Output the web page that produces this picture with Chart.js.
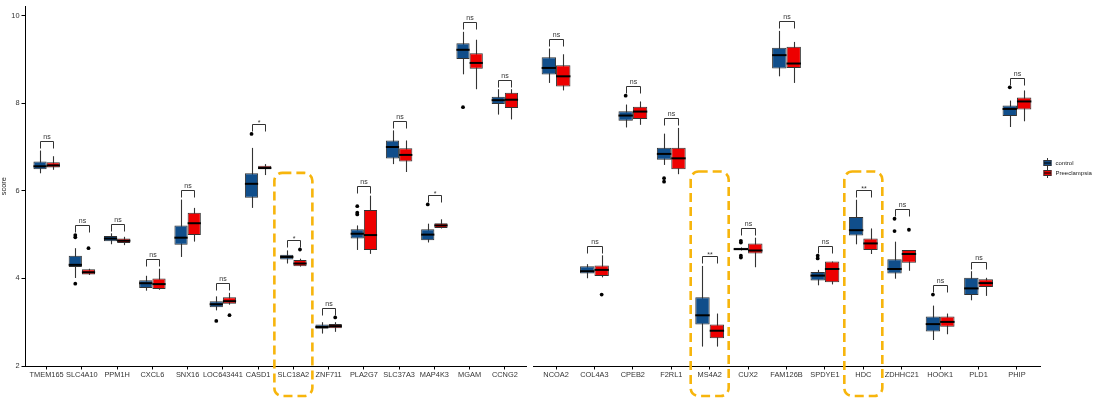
<!DOCTYPE html>
<html lang="en">
  <head>
    <meta charset="UTF-8" />
    <title>Gene score boxplots</title>
    <script src="https://cdn.jsdelivr.net/npm/chart.js"></script>
    <style>
      html,
      body {
        margin: 0;
        padding: 0;
        background: #fff;
      }
      body {
        position: relative;
        width: 1093px;
        height: 401px;
        overflow: hidden;
      }
      .panel {
        position: absolute;
        top: 0;
        height: 401px;
      }
      #leftWrap {
        left: 0;
        width: 530px;
      }
      #rightWrap {
        left: 529px;
        width: 564px;
      }
    </style>
  </head>
  <body>
    <div class="panel" id="leftWrap"><canvas id="leftChart"></canvas></div>
    <div class="panel" id="rightWrap"><canvas id="rightChart"></canvas></div>

    <script>
      // ---- data: each box is [lower whisker, Q1, median, Q3, upper whisker] ----
      const genesLeft = ["TMEM165", "SLC4A10", "PPM1H", "CXCL6", "SNX16", "LOC643441", "CASD1",
        "SLC18A2", "ZNF711", "PLA2G7", "SLC37A3", "MAP4K3", "MGAM", "CCNG2"];
      const genesRight = ["NCOA2", "COL4A3", "CPEB2", "F2RL1", "MS4A2", "CUX2", "FAM126B",
        "SPDYE1", "HDC", "ZDHHC21", "HOOK1", "PLD1", "PHIP"];

      const controlLeft = [
        [6.40, 6.49, 6.56, 6.67, 6.92], [4.01, 4.26, 4.31, 4.52, 4.69], [4.78, 4.85, 4.91, 4.97, 5.03],
        [3.72, 3.78, 3.89, 3.96, 4.06], [4.49, 4.77, 4.93, 5.21, 5.80], [3.27, 3.34, 3.41, 3.48, 3.59],
        [5.61, 5.84, 6.16, 6.40, 6.98], [4.34, 4.43, 4.49, 4.54, 4.64], [2.74, 2.85, 2.89, 2.95, 3.00],
        [4.65, 4.91, 5.02, 5.12, 5.21], [6.61, 6.74, 7.00, 7.15, 7.38], [4.82, 4.87, 5.00, 5.12, 5.25],
        [8.66, 9.01, 9.22, 9.37, 9.63], [7.74, 7.98, 8.07, 8.15, 8.32]
      ];
      const preeclampsiaLeft = [
        [6.48, 6.53, 6.58, 6.65, 6.79], [4.08, 4.09, 4.14, 4.21, 4.22], [4.76, 4.81, 4.86, 4.91, 4.95],
        [3.74, 3.76, 3.87, 4.00, 4.22], [4.84, 4.99, 5.26, 5.50, 5.61], [3.40, 3.42, 3.48, 3.57, 3.67],
        [6.36, 6.49, 6.52, 6.57, 6.61], [4.27, 4.28, 4.34, 4.42, 4.45], [2.78, 2.86, 2.91, 2.96, 3.00],
        [4.56, 4.65, 4.99, 5.56, 5.89], [6.43, 6.67, 6.82, 6.97, 7.15], [5.14, 5.15, 5.21, 5.26, 5.35],
        [8.32, 8.79, 8.92, 9.14, 9.45], [7.63, 7.89, 8.08, 8.24, 8.32]
      ];
      const controlLeftOutliers = [[], [4.99, 4.94, 3.88], [], [], [], [3.03], [7.30], [], [],
        [5.65, 5.50, 5.46], [], [5.69], [7.91], []];
      const preeclampsiaLeftOutliers = [[], [4.69], [], [], [], [3.16], [], [4.66], [3.11],
        [], [], [], [], []];

      const controlRight = [
        [8.42, 8.61, 8.76, 9.00, 9.20], [3.99, 4.10, 4.15, 4.26, 4.31], [7.41, 7.56, 7.68, 7.78, 7.93],
        [6.56, 6.68, 6.81, 6.95, 7.27], [2.44, 2.94, 3.15, 3.56, 4.27], [4.62, 4.63, 4.65, 4.68, 4.69],
        [8.57, 8.75, 9.05, 9.22, 9.60], [3.83, 3.94, 4.05, 4.13, 4.18], [4.76, 4.96, 5.08, 5.38, 5.77],
        [3.98, 4.10, 4.20, 4.42, 4.82], [2.59, 2.78, 2.95, 3.12, 3.37], [3.49, 3.61, 3.76, 4.00, 4.15],
        [7.42, 7.67, 7.83, 7.91, 8.02]
      ];
      const preeclampsiaRight = [
        [8.25, 8.34, 8.57, 8.82, 9.07], [4.01, 4.04, 4.18, 4.28, 4.51], [7.47, 7.60, 7.77, 7.88, 8.00],
        [6.35, 6.46, 6.71, 6.95, 7.40], [2.44, 2.63, 2.80, 2.94, 3.19], [4.24, 4.55, 4.62, 4.78, 4.91],
        [8.42, 8.76, 8.86, 9.24, 9.35], [3.85, 3.90, 4.20, 4.37, 4.37], [4.54, 4.63, 4.78, 4.89, 5.12],
        [4.16, 4.34, 4.54, 4.63, 4.63], [2.72, 2.89, 3.00, 3.12, 3.19], [3.59, 3.79, 3.88, 3.97, 4.00],
        [7.55, 7.82, 8.00, 8.09, 8.25]
      ];
      const controlRightOutliers = [[], [], [8.13], [6.26, 6.18], [], [4.84, 4.80, 4.50, 4.46], [],
        [4.50, 4.44], [], [5.34, 5.06], [3.62], [], [8.32]];
      const preeclampsiaRightOutliers = [[], [3.62], [], [], [], [], [], [], [], [5.09], [], [], []];

      const sigLeft = ["ns", "ns", "ns", "ns", "ns", "ns", "*", "*", "ns", "ns", "ns", "*", "ns", "ns"];
      const sigRight = ["ns", "ns", "ns", "ns", "**", "ns", "ns", "ns", "**", "ns", "ns", "ns", "ns"];

      const highlighted = ["SLC18A2", "MS4A2", "HDC"];
      const groupNames = ["control", "Preeclampsia"];
      const yTicks = [2, 4, 6, 8, 10];

      // ---- style ----
      const BLUE = "#104E8B";
      const RED = "#EE0000";
      const EDGE = "#333333";
      const GOLD = "#F7B50C";
      const FONT = '"Liberation Sans", Arial, Helvetica, sans-serif';
      const Y_MIN = 2;
      const Y_MAX = 10.21;
      const DODGE = 0.75;
      const BRACKET_GAP = 0.22;
      const HIGHLIGHT_TOP = 6.41;

      Chart.defaults.font.family = FONT;
      Chart.defaults.color = "#333";
      Chart.defaults.animation = false;

      function boxPoints(stats) {
        return stats.map((s, i) => ({ x: i, y: [s[1], s[3]] }));
      }

      function outlierPoints(outs, shift) {
        const pts = [];
        outs.forEach((list, i) => list.forEach((v) => pts.push({ x: i + shift, y: v })));
        return pts;
      }

      function makeBoxPlugin(cfg) {
        return {
          id: "boxExtras",
          beforeDatasetsDraw(chart) {
            // whiskers, drawn behind the boxes
            const ctx = chart.ctx;
            const y = chart.scales.y;
            ctx.save();
            ctx.strokeStyle = EDGE;
            ctx.lineWidth = 1.1;
            cfg.stats.forEach((stats, d) => {
              chart.getDatasetMeta(d).data.forEach((bar, i) => {
                const s = stats[i];
                const x = Math.round(bar.x) + 0.5;
                ctx.beginPath();
                ctx.moveTo(x, y.getPixelForValue(s[0]));
                ctx.lineTo(x, y.getPixelForValue(s[4]));
                ctx.stroke();
              });
            });
            ctx.restore();
          },
          afterDatasetsDraw(chart) {
            const ctx = chart.ctx;
            const y = chart.scales.y;
            ctx.save();
            // medians
            ctx.strokeStyle = "#000";
            ctx.lineWidth = 2;
            cfg.stats.forEach((stats, d) => {
              chart.getDatasetMeta(d).data.forEach((bar, i) => {
                const py = y.getPixelForValue(stats[i][2]);
                ctx.beginPath();
                ctx.moveTo(bar.x - bar.width / 2, py);
                ctx.lineTo(bar.x + bar.width / 2, py);
                ctx.stroke();
              });
            });
            // significance brackets
            ctx.strokeStyle = EDGE;
            ctx.lineWidth = 1;
            ctx.fillStyle = "#333";
            ctx.font = "7px " + FONT;
            ctx.textAlign = "center";
            ctx.textBaseline = "bottom";
            const m0 = chart.getDatasetMeta(0).data;
            const m1 = chart.getDatasetMeta(1).data;
            cfg.sig.forEach((label, i) => {
              const top = Math.max(
                cfg.stats[0][i][4], cfg.stats[1][i][4],
                ...cfg.outliers[0][i], ...cfg.outliers[1][i]
              ) + BRACKET_GAP;
              const py = Math.round(y.getPixelForValue(top)) + 0.5;
              const x0 = Math.round(m0[i].x) + 0.5;
              const x1 = Math.round(m1[i].x) + 0.5;
              ctx.beginPath();
              ctx.moveTo(x0, py + 7);
              ctx.lineTo(x0, py);
              ctx.lineTo(x1, py);
              ctx.lineTo(x1, py + 7);
              ctx.stroke();
              ctx.fillText(label, (x0 + x1) / 2, label === "ns" ? py - 1 : py + 2);
            });
            ctx.restore();
          },
          afterDraw(chart) {
            const ctx = chart.ctx;
            const x = chart.scales.x;
            const y = chart.scales.y;
            ctx.save();
            // dashed highlight frames
            ctx.strokeStyle = GOLD;
            ctx.lineWidth = 2.6;
            ctx.setLineDash([9, 5]);
            cfg.genes.forEach((g, i) => {
              if (!highlighted.includes(g)) return;
              const cx = x.getPixelForValue(i);
              const top = y.getPixelForValue(HIGHLIGHT_TOP);
              const bottom = chart.height - 5;
              ctx.beginPath();
              ctx.roundRect(cx - 19, top, 38, bottom - top, 8);
              ctx.stroke();
            });
            ctx.setLineDash([]);
            // legend
            if (cfg.legend) {
              const lx = chart.chartArea.right + 3.5;
              [BLUE, RED].forEach((col, k) => {
                const ky = 159 + k * 10;
                ctx.strokeStyle = EDGE;
                ctx.lineWidth = 1;
                ctx.beginPath();
                ctx.moveTo(lx + 4, ky - 1);
                ctx.lineTo(lx + 4, ky + 9);
                ctx.stroke();
                ctx.fillStyle = col;
                ctx.fillRect(lx, ky + 1, 8, 6);
                ctx.strokeRect(lx + 0.5, ky + 1.5, 7, 5);
                ctx.strokeStyle = "#000";
                ctx.beginPath();
                ctx.moveTo(lx + 0.5, ky + 4);
                ctx.lineTo(lx + 7.5, ky + 4);
                ctx.stroke();
                ctx.fillStyle = "#222";
                ctx.font = "6px " + FONT;
                ctx.textAlign = "left";
                ctx.textBaseline = "middle";
                ctx.fillText(groupNames[k], lx + 12, ky + 4);
              });
            }
            ctx.restore();
          },
        };
      }

      function makeChart(canvasId, genes, ctrl, pe, ctrlOut, peOut, sig, showY, showLegend, padding) {
        const shift = DODGE / 4;
        const ctx = document.getElementById(canvasId).getContext("2d");
        return new Chart(ctx, {
          type: "bar",
          data: {
            datasets: [
              {
                label: groupNames[0],
                data: boxPoints(ctrl),
                backgroundColor: BLUE,
                borderColor: EDGE,
                borderWidth: 1,
                borderSkipped: false,
                categoryPercentage: DODGE,
                barPercentage: 1,
              },
              {
                label: groupNames[1],
                data: boxPoints(pe),
                backgroundColor: RED,
                borderColor: EDGE,
                borderWidth: 1,
                borderSkipped: false,
                categoryPercentage: DODGE,
                barPercentage: 1,
              },
              {
                type: "scatter",
                data: outlierPoints(ctrlOut, -shift),
                backgroundColor: "#000",
                borderWidth: 0,
                pointRadius: 1.9,
              },
              {
                type: "scatter",
                data: outlierPoints(peOut, shift),
                backgroundColor: "#000",
                borderWidth: 0,
                pointRadius: 1.9,
              },
            ],
          },
          options: {
            responsive: true,
            maintainAspectRatio: false,
            layout: { padding: padding },
            plugins: {
              legend: { display: false },
              tooltip: { enabled: false },
            },
            scales: {
              x: {
                type: "linear",
                min: -0.6,
                max: genes.length - 0.4,
                offset: false,
                afterBuildTicks: (scale) => {
                  scale.ticks = genes.map((g, i) => ({ value: i }));
                },
                afterFit: (scale) => {
                  scale.height = 35;
                },
                ticks: {
                  autoSkip: false,
                  maxRotation: 0,
                  minRotation: 0,
                  padding: 1,
                  color: "#333",
                  font: { size: 7.4 },
                  callback: (v) => genes[v],
                },
                grid: {
                  display: true,
                  offset: false,
                  drawOnChartArea: false,
                  drawTicks: true,
                  tickLength: 3.5,
                  color: "#000",
                },
                border: { display: true, color: "#000", width: 1 },
              },
              y: {
                display: showY,
                min: Y_MIN,
                max: Y_MAX,
                afterBuildTicks: (scale) => {
                  scale.ticks = yTicks.map((v) => ({ value: v }));
                },
                afterFit: (scale) => {
                  scale.width = showY ? 25.5 : 0;
                },
                title: {
                  display: true,
                  text: "score",
                  color: "#222",
                  font: { size: 7.4 },
                  padding: { top: 0, bottom: 0 },
                },
                ticks: {
                  padding: 2,
                  color: "#333",
                  font: { size: 7.4 },
                },
                grid: {
                  display: true,
                  drawOnChartArea: false,
                  drawTicks: true,
                  tickLength: 4,
                  color: "#000",
                },
                border: { display: true, color: "#000", width: 1 },
              },
            },
          },
          plugins: [
            makeBoxPlugin({
              genes: genes,
              stats: [ctrl, pe],
              outliers: [ctrlOut, peOut],
              sig: sig,
              legend: showLegend,
            }),
          ],
        });
      }

      makeChart("leftChart", genesLeft, controlLeft, preeclampsiaLeft,
        controlLeftOutliers, preeclampsiaLeftOutliers, sigLeft, true, false,
        { top: 1, right: 1, left: 0, bottom: 0 });
      makeChart("rightChart", genesRight, controlRight, preeclampsiaRight,
        controlRightOutliers, preeclampsiaRightOutliers, sigRight, false, true,
        { top: 1, right: 53, left: 2, bottom: 0 });
    </script>
  </body>
</html>
